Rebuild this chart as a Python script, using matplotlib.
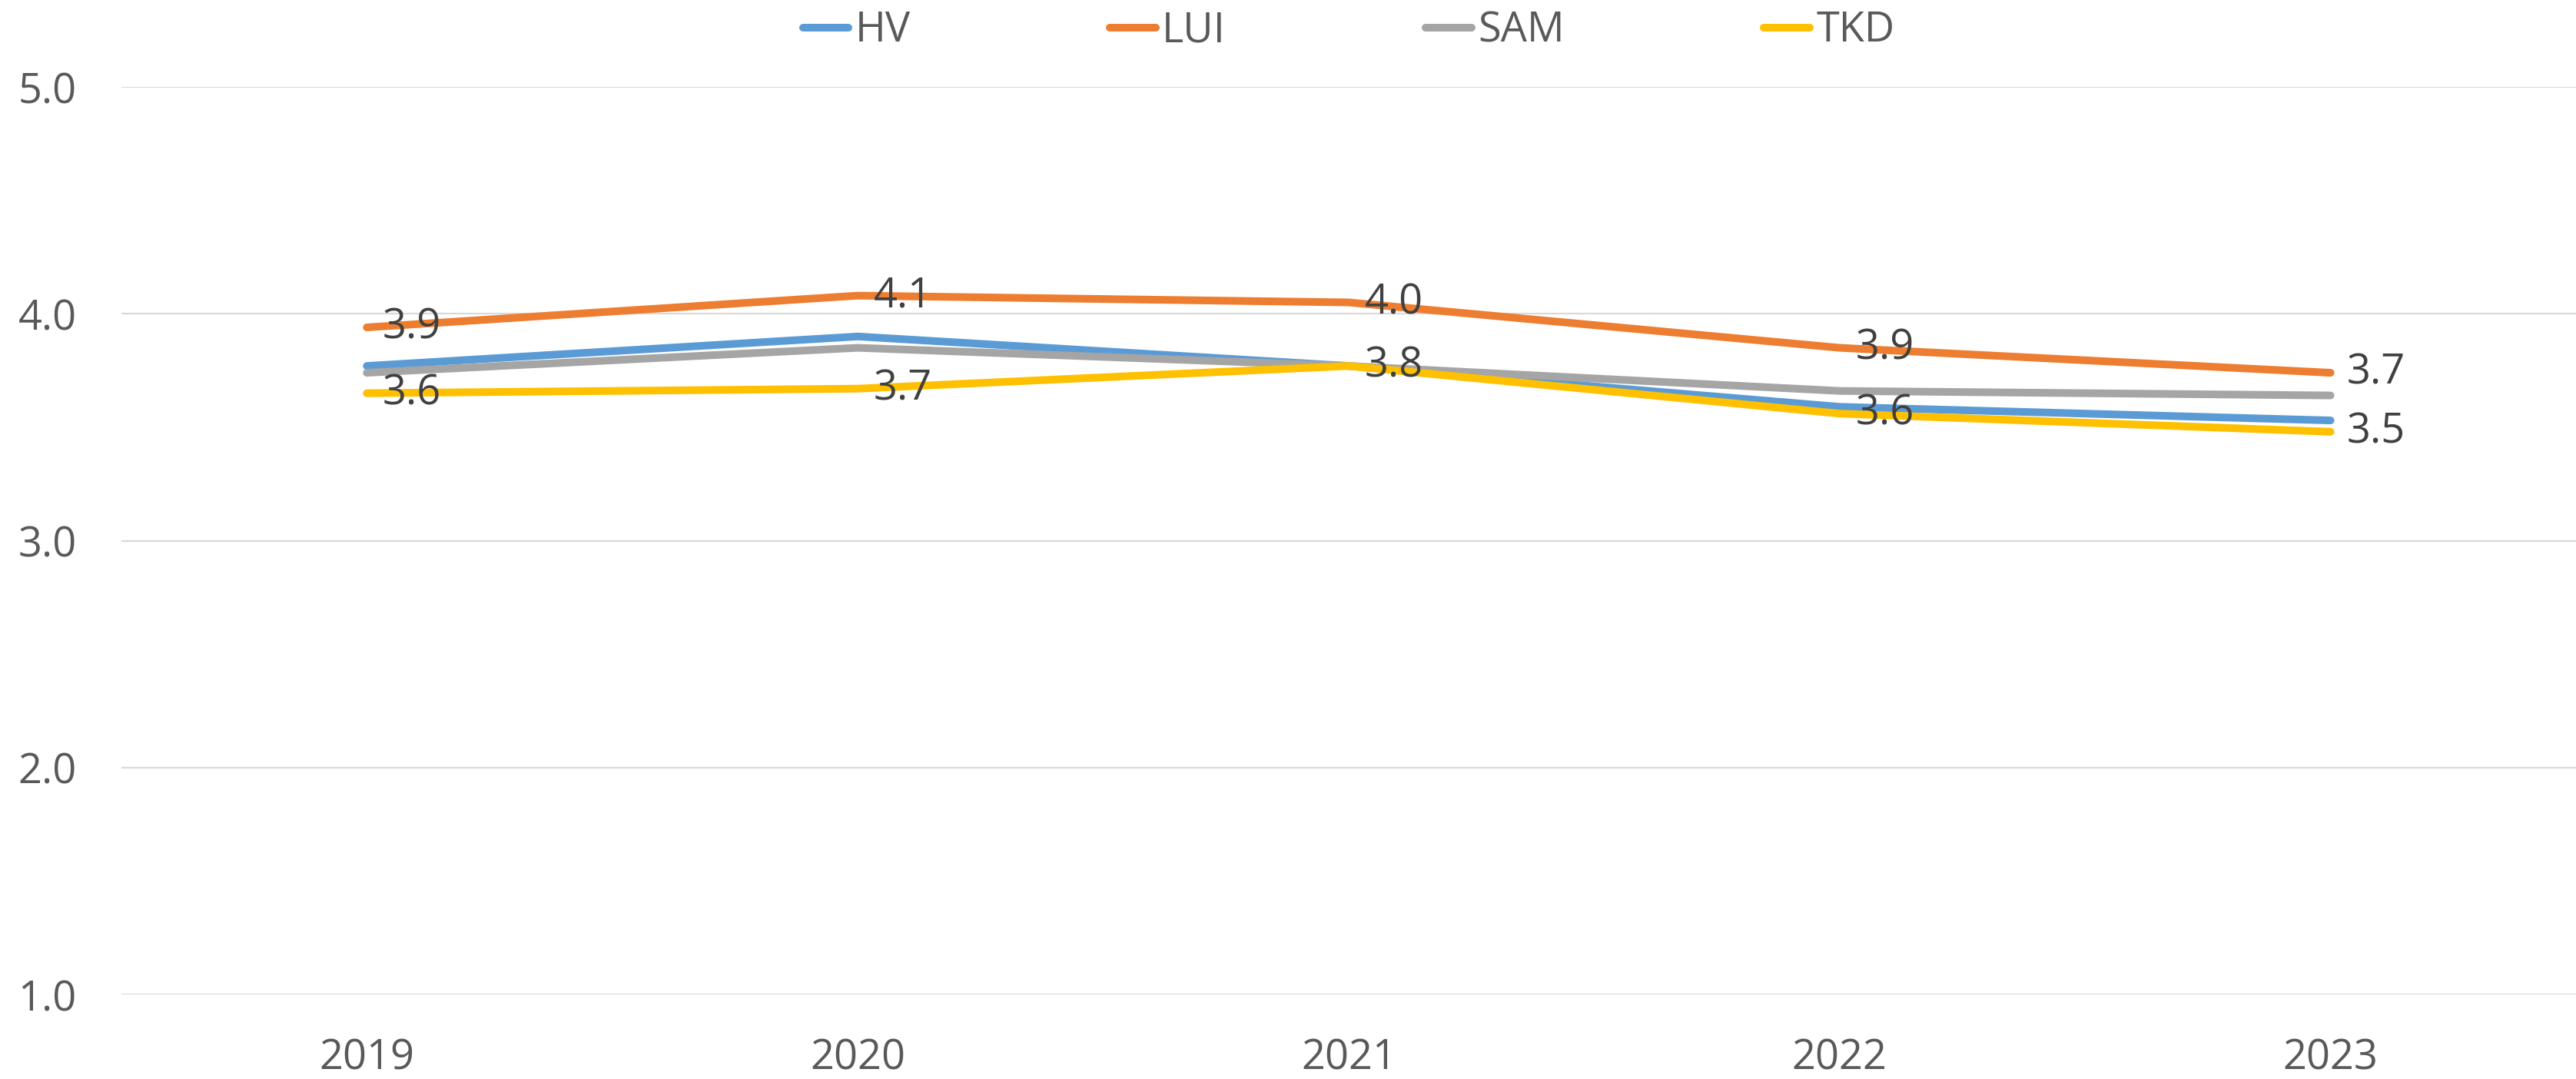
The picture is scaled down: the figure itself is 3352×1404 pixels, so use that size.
import matplotlib
matplotlib.use("Agg")
import matplotlib.pyplot as plt

# data
years = ["2019", "2020", "2021", "2022", "2023"]
hv = [3.77, 3.90, 3.77, 3.59, 3.53]
lui = [3.94, 4.08, 4.05, 3.85, 3.74]
sam = [3.74, 3.85, 3.77, 3.66, 3.64]
tkd = [3.65, 3.67, 3.77, 3.56, 3.48]

series = [
    ("HV", hv, "#5B9BD5", False),
    ("LUI", lui, "#ED7D31", True),
    ("SAM", sam, "#A5A5A5", False),
    ("TKD", tkd, "#FFC000", True),
]

plt.rcParams["font.family"] = ["Open Sans", "DejaVu Sans"]

fig = plt.figure(figsize=(33.52, 14.04), dpi=100)
ax = fig.add_axes([0.0471, 0.0783, 0.9529, 0.8412])

x = list(range(len(years)))
for name, vals, color, labelled in series:
    ax.plot(x, vals, color=color, lw=7.2, solid_capstyle="round",
            solid_joinstyle="round", label=name, zorder=3)
    if labelled:
        for xi, v in zip(x, vals):
            ax.annotate(f"{v:.1f}", (xi, v), xytext=(15, 0),
                        textcoords="offset points", ha="left", va="center",
                        fontsize=39, color="#404040", zorder=4)

ax.set_xlim(-0.5, len(years) - 0.5)
ax.set_ylim(1, 5)
ax.set_yticks([1, 2, 3, 4, 5])
ax.set_yticklabels([f"{t:.1f}" for t in [1, 2, 3, 4, 5]])
ax.set_xticks(x)
ax.set_xticklabels(years)
ax.tick_params(length=0, labelsize=39, colors="#595959")
ax.tick_params(axis="y", pad=42)
ax.tick_params(axis="x", pad=40)
ax.grid(axis="y", color="#D9D9D9", lw=1.6)
ax.set_axisbelow(True)
for s in ax.spines.values():
    s.set_visible(False)

leg = ax.legend(loc="center", bbox_to_anchor=(0.5, (1 - 40 / 1404 - 0.0783) / 0.8412),
                ncol=4, frameon=False, fontsize=39, handlelength=1.1,
                handletextpad=0.15, columnspacing=4.8, labelcolor="#595959")
for line in leg.get_lines():
    line.set_solid_capstyle("round")

fig.savefig("out.png", dpi=100)
